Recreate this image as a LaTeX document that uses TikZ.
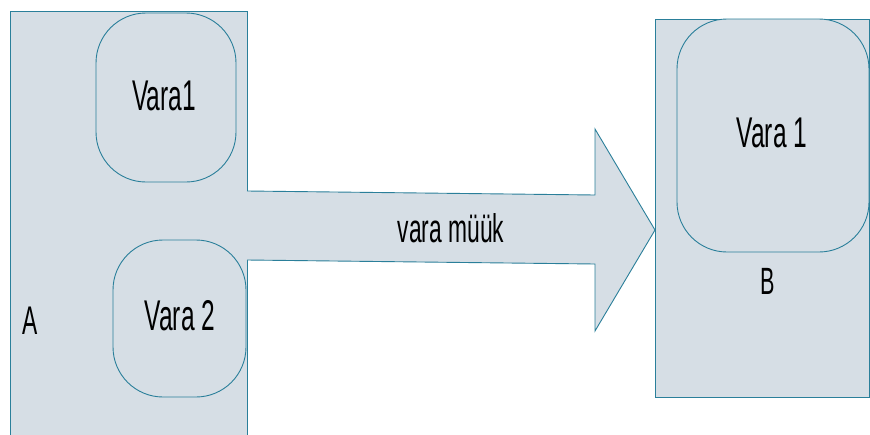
\documentclass[tikz,border=0pt]{standalone}
\usepackage{fontspec}
\setmainfont[FakeStretch=0.57]{Liberation Sans}
\definecolor{boxfill}{RGB}{214,222,229}
\definecolor{boxline}{RGB}{42,127,154}
\tikzset{
  area/.style={draw=boxline, fill=boxfill, line width=0.9pt},
  item/.style={draw=boxline, fill=boxfill, line width=0.9pt, rounded corners=50pt},
  lbl/.style={font=\fontsize{43}{46}\selectfont, inner sep=0pt}
}
\begin{document}
\begin{tikzpicture}[x=1pt, y=-1pt]
  \useasboundingbox (0,0) rectangle (870,434);
  % left side
  \draw[area] (10,11) rectangle (247,445);
  \draw[item] (96,13) rectangle (236,182);
  \draw[item] (113,240) rectangle (246,397);
  \node[lbl] (vA) at (164,96) {Vara1};
  \node[lbl] (vB) at (180,316) {Vara 2};
  \node[lbl, font=\fontsize{40}{44}\selectfont] (a) at (30,321) {A};
  % right side
  \draw[area] (655,19) rectangle (869,397);
  \draw[item] (677,19) rectangle (869,252);
  \node[lbl] (vC) at (772,133) {Vara 1};
  \node[lbl, font=\fontsize{38}{42}\selectfont] (b) at (768,281) {B};
  % arrow
  \draw[area, line join=miter] (247,191) -- (595,195) -- (595,129) -- (655,230)
    -- (595,331) -- (595,264) -- (247,260);
  \node[lbl, font=\fontsize{40}{44}\selectfont] (move) at (451,228) {vara müük};
\end{tikzpicture}
\end{document}
